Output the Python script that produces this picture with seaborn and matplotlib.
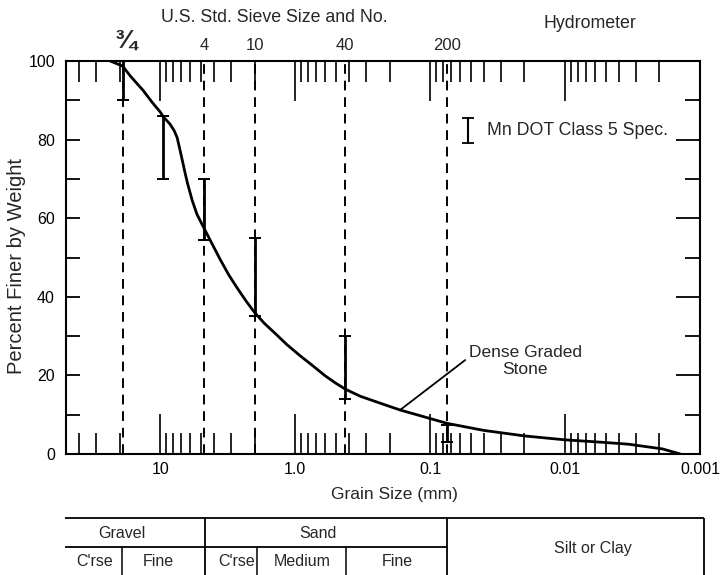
import matplotlib
matplotlib.use('Agg')
import matplotlib.pyplot as plt
from matplotlib.ticker import LogLocator, NullFormatter
import seaborn as sns
import numpy as np
import pandas as pd

# gradation curve (grain size mm, percent finer)
grain_mm = [23.5, 19, 16.7, 13.4, 11.5, 10.0, 9.5, 8.5, 7.9, 7.5, 7.0, 6.6, 6.3,
            5.8, 5.35, 4.75, 3.6, 3.1, 2.7, 2.3, 2.0, 1.7, 1.37, 1.15, 0.92,
            0.75, 0.6, 0.5, 0.425, 0.33, 0.22, 0.167, 0.075, 0.04, 0.02, 0.01,
            0.0054, 0.0034, 0.0019, 0.0014]
pct_finer = [100, 98.7, 96.2, 92.5, 89.5, 87, 85.8, 84, 82.3, 80.5, 76, 72, 69,
             64.5, 61, 57.5, 49.5, 45.5, 42.3, 38.8, 36, 33.3, 30.3, 27.8, 25,
             22.6, 19.9, 18.0, 16.5, 14.7, 12.6, 11.2, 7.8, 6.0, 4.6, 3.6,
             3.0, 2.5, 1.3, 0]

# sieve sizes (top axis)
sieve_mm = [19, 4.75, 2.0, 0.425, 0.075]
sieve_labels = ['¾', '4', '10', '40', '200']

# Mn DOT Class 5 spec bands
spec_mm = [19, 9.5, 4.75, 2.0, 0.425, 0.075]
spec_low = [90, 70, 54.5, 35, 14, 3]
spec_high = [100, 86, 70, 55, 30, 7.5]

x_ticks = [10, 1, 0.1, 0.01, 0.001]
x_ticklabels = ['10', '1.0', '0.1', '0.01', '0.001']
y_ticks = [0, 20, 40, 60, 80, 100]
y_minor = [10, 30, 50, 70, 90]

# soil classification table under the chart
upper_cells = ['Gravel', 'Sand']
lower_cells = ["C'rse", 'Fine', "C'rse", 'Medium', 'Fine']

sns.set_style('ticks')
plt.rcParams['font.family'] = ['Liberation Sans', 'DejaVu Sans']

W, H = 721, 575
fig = plt.figure(figsize=(W / 100, H / 100), dpi=100)

def fx(x):
    return x / W

def fy(y):
    return 1 - y / H

ax = fig.add_axes([fx(66), fy(454), (700 - 66) / W, (454 - 61) / H])

df = pd.DataFrame({'grain': grain_mm, 'pct': pct_finer})
sns.lineplot(data=df, x='grain', y='pct', sort=False, estimator=None,
             color='black', lw=2, ax=ax)

ax.set_xscale('log')
ax.set_xlim(50, 0.001)
ax.set_ylim(0, 100)

for s in sieve_mm:
    ax.axvline(s, color='black', lw=1.4, ls=(0, (5, 3.5)), zorder=1)

lo = np.array(spec_low)
hi = np.array(spec_high)
ax.errorbar(spec_mm, (lo + hi) / 2, yerr=(hi - lo) / 2, fmt='none',
            ecolor='black', elinewidth=2, capsize=4, capthick=1.4, zorder=3)

# ticks
ax.set_xticks(x_ticks)
ax.set_xticklabels(x_ticklabels)
ax.xaxis.set_minor_locator(LogLocator(base=10, subs=np.arange(2, 10)))
ax.xaxis.set_minor_formatter(NullFormatter())
ax.tick_params(axis='x', which='major', direction='in', length=29, width=1.2,
               bottom=True, top=True, pad=6, labelsize=11.5, colors='black')
ax.tick_params(axis='x', which='minor', direction='in', length=15, width=1.2,
               bottom=True, top=True, colors='black')
ax.set_yticks(y_ticks)
ax.set_yticks(y_minor, minor=True)
ax.tick_params(axis='y', which='both', direction='in', length=10, width=1.3,
               left=True, right=False, pad=8, labelsize=11.5, colors='black')
ax.set_xlabel('')
ax.set_ylabel('')
for sp in ax.spines.values():
    sp.set_color('black')
    sp.set_linewidth(1.5)

ax2 = ax.twinx()
ax2.set_ylim(0, 100)
ax2.set_yticks([20, 40, 60, 80])
ax2.set_yticks(y_minor, minor=True)
ax2.tick_params(axis='y', which='major', direction='in', length=17, width=1.3,
                right=True, labelright=False, colors='black')
ax2.tick_params(axis='y', which='minor', direction='in', length=11, width=1.3,
                right=True, colors='black')
for sp in ax2.spines.values():
    sp.set_visible(False)

# legend glyph
ax.plot([0.634, 0.634], [0.792, 0.855], transform=ax.transAxes, color='black', lw=1.5)
ax.plot([0.634, 0.634], [0.792, 0.855], transform=ax.transAxes, ls='none',
        marker='_', ms=9, mew=1.3, color='black')
ax.text(0.664, 0.824, 'Mn DOT Class 5 Spec.', transform=ax.transAxes,
        ha='left', va='center', fontsize=12.8)

# curve label
ax.annotate('', xy=(0.167, 11.2), xytext=(0.055, 23.9),
            arrowprops=dict(arrowstyle='-', color='black', lw=1.3, shrinkA=0, shrinkB=0))
ax.text(0.0198, 23.6, 'Dense Graded\nStone', ha='center', va='center',
        fontsize=12.5, linespacing=1.15)

# sieve labels on top
for s, lab in zip(sieve_mm, sieve_labels):
    big = lab == '¾'
    ax.annotate(lab, xy=(s, 1), xycoords=('data', 'axes fraction'),
                xytext=(2 if big else 0, 14 if big else 11.5), textcoords='offset points',
                ha='center', va='center', fontsize=19 if big else 12,
                fontweight='bold' if big else 'normal')

fig.text(fx(274), fy(18), 'U.S. Std. Sieve Size and No.', ha='center', va='center', fontsize=12.8)
fig.text(fx(590), fy(23), 'Hydrometer', ha='center', va='center', fontsize=12.8)
fig.text(fx(394), fy(495), 'Grain Size (mm)', ha='center', va='center', fontsize=12.5)
fig.text(fx(17), fy(266), 'Percent Finer by Weight', rotation=90,
         ha='center', va='center', fontsize=14.5)

# table
tab = fig.add_axes([0, 0, 1, 1], zorder=-1)
tab.set_xlim(0, W)
tab.set_ylim(H, 0)
tab.axis('off')
tab.hlines([518], 65, 704, color='black', lw=1.3)
tab.hlines([547], 65, 447, color='black', lw=1.3)
tab.vlines([205, 447, 704], 518, 576, color='black', lw=1.3)
tab.vlines([122, 257, 346], 547, 576, color='black', lw=1.1)
for x, t in zip([122, 318], upper_cells):
    tab.text(x, 533, t, ha='center', va='center', fontsize=11.5)
for x, t in zip([95, 158, 237, 302, 397], lower_cells):
    tab.text(x, 562, t, ha='center', va='center', fontsize=11.5)
tab.text(593, 548, 'Silt or Clay', ha='center', va='center', fontsize=11.5)

fig.savefig('out.png', dpi=100)
